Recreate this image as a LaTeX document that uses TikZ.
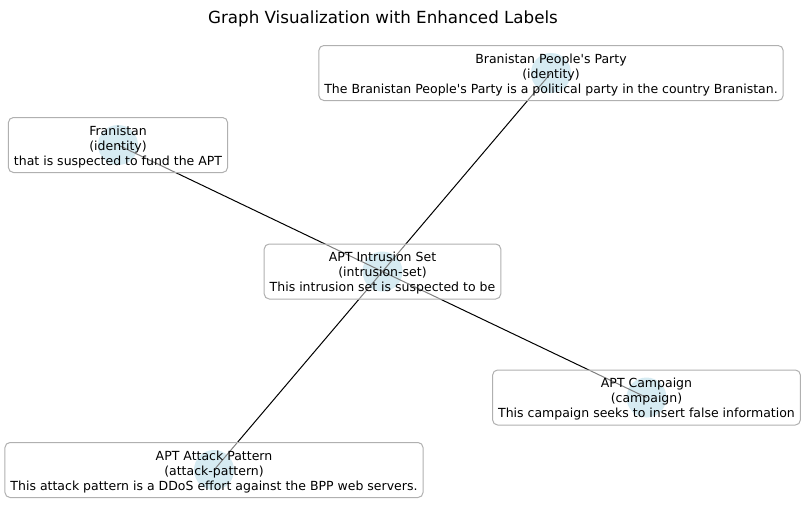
\documentclass[tikz,border=0pt]{standalone}
\usepackage{fontspec}
\setmainfont{DejaVu Sans}
\definecolor{dotblue}{HTML}{ADD8E6}
\definecolor{boxline}{HTML}{B0B0B0}
\newcommand{\q}{\textquotesingle}
\newcommand{\topstrut}{\rule{0pt}{13.5pt}}
\tikzset{
  dot/.style={circle, fill=dotblue, draw=none, minimum size=40pt, inner sep=0pt},
  edge/.style={draw=black, line width=1pt},
  lbl/.style={rounded corners=5pt, draw=boxline, line width=1pt, fill=white, fill opacity=0.5, text opacity=1,
    align=center, font=\fontsize{12.5}{15}\selectfont, inner xsep=5.5pt, minimum height=55pt},
  ttl/.style={font=\fontsize{16.7}{20}\selectfont}
}
\begin{document}
\begin{tikzpicture}[x=1pt,y=-1pt]
\useasboundingbox (0,0) rectangle (805,522);
\node[ttl] (title) at (383,18.5) {Graph Visualization with Enhanced Labels};
\node[dot] (cb) at (551,73) {};
\node[dot] (cf) at (118,145) {};
\node[dot] (ci) at (382.5,271.5) {};
\node[dot] (cc) at (646.5,397.5) {};
\node[dot] (ca) at (214,470) {};
\draw[edge] (ci.center) -- (cb.center);
\draw[edge] (ci.center) -- (cf.center);
\draw[edge] (ci.center) -- (cc.center);
\draw[edge] (ci.center) -- (ca.center);
\node[lbl] (lb) at (cb) {\topstrut Branistan People\q s Party\\(identity)\\The Branistan People\q s Party is a political party in the country Branistan.};
\node[lbl] (lf) at (cf) {\topstrut Franistan\\(identity)\\that is suspected to fund the APT};
\node[lbl] (li) at (ci) {\topstrut APT Intrusion Set\\(intrusion-set)\\This intrusion set is suspected to be};
\node[lbl] (lc) at (cc) {\topstrut APT Campaign\\(campaign)\\This campaign seeks to insert false information};
\node[lbl] (la) at (ca) {\topstrut APT Attack Pattern\\(attack-pattern)\\This attack pattern is a DDoS effort against the BPP web servers.};
\end{tikzpicture}
\end{document}
